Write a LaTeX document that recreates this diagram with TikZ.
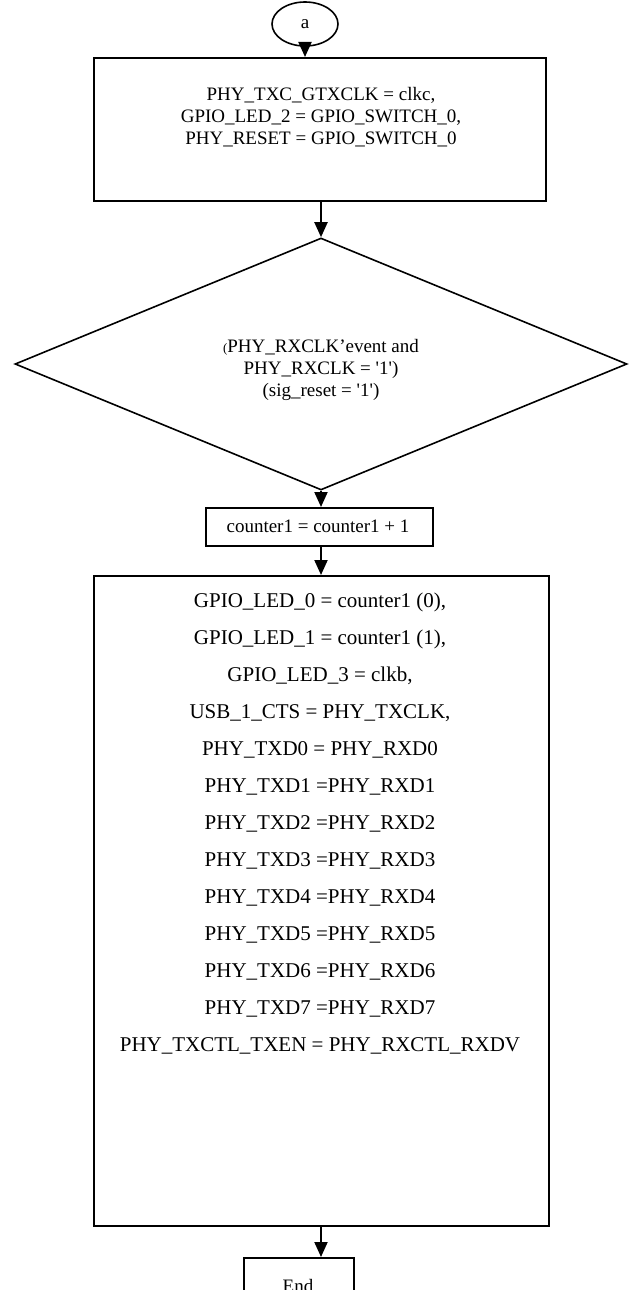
\documentclass[tikz,border=0pt]{standalone}
\usepackage{fontspec}
\setmainfont{Liberation Serif}
\usetikzlibrary{shapes.geometric, arrows.meta}
\begin{document}
\begin{tikzpicture}[x=1pt,y=-1pt,
  box/.style={draw, line width=1.6pt, rectangle, inner sep=0pt, anchor=north west},
  txt/.style={font=\fontsize{19}{22}\selectfont, align=center, inner sep=0pt},
  arr/.style={-{Triangle[length=15pt,width=13pt]}, line width=2pt}]
\useasboundingbox (0,0) rectangle (633,1290);
\fill[white] (0,0) rectangle (633,1290);
% start connector
\node[draw, ellipse, line width=1.6pt, minimum width=66pt, minimum height=44pt, inner sep=0pt,
      font=\fontsize{19}{22}\selectfont] (a) at (305,24) {a};
% box 1
\node[box, minimum width=452pt, minimum height=143pt] (b1) at (93,57) {};
\node[txt] (t1) at (321,117) {PHY\_TXC\_GTXCLK = clkc,\\GPIO\_LED\_2 = GPIO\_SWITCH\_0,\\PHY\_RESET = GPIO\_SWITCH\_0};
% decision
\node[draw, diamond, line width=1.6pt, minimum width=612pt, minimum height=252pt, inner sep=0pt] (d) at (321,364) {};
\node[txt] (td) at (321,370) {{\fontsize{13}{13}\selectfont(}PHY\_RXCLK’event and\\PHY\_RXCLK = \textquotesingle1\textquotesingle)\\(sig\_reset = \textquotesingle1\textquotesingle)};
% counter
\node[box, minimum width=227pt, minimum height=38pt] (c) at (205,507) {};
\node[txt] (tc) at (318,526) {counter1 = counter1 + 1};
% big box
\node[box, minimum width=455pt, minimum height=650pt] (b4) at (93,575) {};
\node[txt, font=\fontsize{21}{37}\selectfont] (t4) at (320,824) {GPIO\_LED\_0 = counter1 (0),\\
GPIO\_LED\_1 = counter1 (1),\\
GPIO\_LED\_3 = clkb,\\
USB\_1\_CTS = PHY\_TXCLK,\\
PHY\_TXD0 = PHY\_RXD0\\
PHY\_TXD1 =PHY\_RXD1\\
PHY\_TXD2 =PHY\_RXD2\\
PHY\_TXD3 =PHY\_RXD3\\
PHY\_TXD4 =PHY\_RXD4\\
PHY\_TXD5 =PHY\_RXD5\\
PHY\_TXD6 =PHY\_RXD6\\
PHY\_TXD7 =PHY\_RXD7\\
PHY\_TXCTL\_TXEN = PHY\_RXCTL\_RXDV};
% end
\node[box, minimum width=110pt, minimum height=60pt] (e) at (243,1257) {};
\node[txt] (te) at (298,1286) {End};
% connectors
\draw[arr] (a.south) -- (a.south |- b1.north);
\draw[arr] (d.north |- b1.south) -- (d.north);
\draw[arr] (d.south) -- (d.south |- c.north);
\draw[arr] (d.south |- c.south) -- (d.south |- b4.north);
\draw[arr] (d.south |- b4.south) -- (d.south |- e.north);
\end{tikzpicture}
\end{document}
